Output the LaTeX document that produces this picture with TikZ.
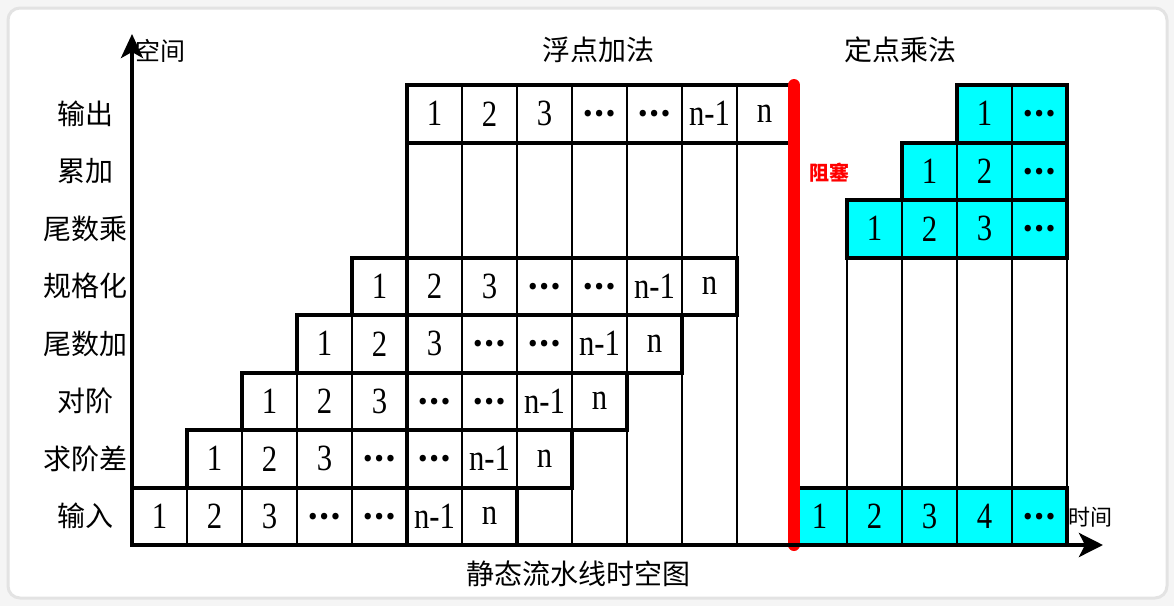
\documentclass[tikz,border=0pt]{standalone}
\usepackage{fontspec}
\setmainfont{Liberation Serif}
\newfontfamily\cjk{Noto Sans CJK SC}
\newfontfamily\numfont[FakeStretch=0.83]{Liberation Serif}
\usetikzlibrary{arrows.meta,positioning}
\definecolor{cellcyan}{RGB}{0,255,255}
\definecolor{blockred}{RGB}{255,0,0}
\tikzstyle{every node}+=[inner sep=0pt,outer sep=0pt]
\tikzstyle{cell}=[draw,line width=1pt,minimum width=27.5pt,minimum height=28.75pt,font=\numfont\fontsize{18.5}{18.5}\selectfont]
\tikzstyle{stage}=[font=\cjk\fontsize{14}{14}\selectfont]
\tikzstyle{outline}=[line width=2pt]
\tikzstyle{grid}=[line width=1pt]
\tikzstyle{axis}=[line width=2pt,{Stealth[length=12pt,width=11pt,inset=3pt]}-{Stealth[length=12pt,width=12pt,inset=3pt]}]
\newcommand{\ellip}{{\cjk\bfseries\fontsize{15}{15}\selectfont …}}
\newcommand{\stagerow}[4][]{
	\foreach \lab [count=\c from #3] in {#4}{
		\node[cell,#1] (s#2-\c) at ({159.5+55*\c},{516.25-57.5*#2}) {\lab};
	}
}
\newcommand{\drawlines}[2][]{
	\foreach \a/\b in {#2}{
		\draw[#1] (\a) -- (\b);
	}
}

\begin{document}
\begin{tikzpicture}[x=0.5pt,y=-0.5pt]
\useasboundingbox (0,0) rectangle (1174,606);
\fill[gray!8] (0,0) rectangle (1174,606);
\draw[fill=white,draw=gray!22,line width=1.5pt,rounded corners=6pt] (8,8) rectangle (1167,598);

% bottom of the grid
\foreach \i in {1,...,12}{
	\coordinate (b\i) at ({132+55*\i},545);
}

% floating point adder
\stagerow{0}{0}{1,2,3,\ellip,\ellip,n-1,n}
\stagerow{1}{1}{1,2,3,\ellip,\ellip,n-1,n}
\stagerow{2}{2}{1,2,3,\ellip,\ellip,n-1,n}
\stagerow{3}{3}{1,2,3,\ellip,\ellip,n-1,n}
\stagerow{4}{4}{1,2,3,\ellip,\ellip,n-1,n}
\stagerow{7}{5}{1,2,3,\ellip,\ellip,n-1,n}

\drawlines[grid]{b1/s1-1.north west,b2/s2-2.north west,b3/s3-3.north west,
	b4/s4-4.north west,b6/s7-6.north west,b7/s7-7.north west,b8/s7-8.north west,
	b9/s7-9.north west,b10/s7-10.north west,b11/s7-11.north west}
\drawlines[outline]{b5/s7-5.north west}
\foreach \r/\f/\l in {0/0/6,1/1/7,2/2/8,3/3/9,4/4/10,7/5/11}{
	\draw[outline] (s\r-\f.south west) rectangle (s\r-\l.north east);
}

% fixed point multiplier
\stagerow[fill=cellcyan]{0}{12}{1,2,3,4,\ellip}
\stagerow[fill=cellcyan]{5}{13}{1,2,3,\ellip}
\stagerow[fill=cellcyan]{6}{14}{1,2,\ellip}
\stagerow[fill=cellcyan]{7}{15}{1,\ellip}

\drawlines[grid]{s0-13.north west/s5-13.south west,s0-14.north west/s5-14.south west,
	s0-15.north west/s5-15.south west,s0-16.north west/s5-16.south west,
	s0-16.north east/s5-16.south east}
\foreach \r/\f/\l in {0/12/16,5/13/16,6/14/16,7/15/16}{
	\draw[outline] (s\r-\f.south west) rectangle (s\r-\l.north east);
}

% blocking line
\coordinate (blk top) at (794,85);
\coordinate (blk bot) at (794,545);
\draw[blockred,line width=6pt,line cap=round] (blk top) -- (blk bot);
\node[font=\cjk\bfseries\fontsize{10}{10}\selectfont,text=blockred] (blk) at (829,173) {阻塞};

% axes
\coordinate (O) at (132,545);
\coordinate (ytip) at (132,34);
\coordinate (xtip) at (1103,545);
\draw[axis] (ytip) -- (O) -- (xtip);
\node[font=\cjk\fontsize{12.5}{12.5}\selectfont] (space) at (160,51) {空间};
\node[font=\cjk\fontsize{11}{11}\selectfont] (time) at (1090,517) {时间};

% stage names
\foreach \lab [count=\r from 0] in {输入,求阶差,对阶,尾数加,规格化,尾数乘,累加,输出}{
	\node[stage] (n\r) at (85,{516.25-57.5*\r}) {\lab};
}

\node[stage] (fadd) at (598,50) {浮点加法};
\node[stage] (fmul) at (900,50) {定点乘法};
\node[stage] (title) at (578,574) {静态流水线时空图};
\end{tikzpicture}
\end{document}
